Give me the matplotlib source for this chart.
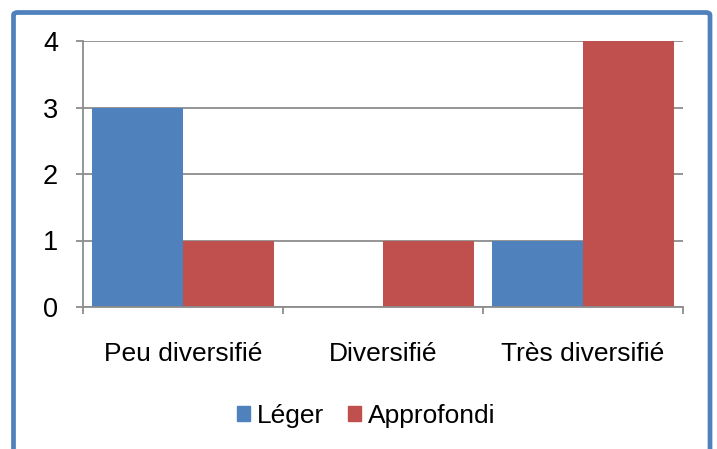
import matplotlib
matplotlib.use("Agg")
import matplotlib.pyplot as plt
import numpy as np
from matplotlib.patches import FancyBboxPatch, Patch

categories = ["Peu diversifié", "Diversifié", "Très diversifié"]
series_names = ["Léger", "Approfondi"]
leger = [3, 0, 1]
approfondi = [1, 1, 4]
yticks = [0, 1, 2, 3, 4]

blue = "#4F81BD"
red = "#C0504D"
grid = "#8C8C8C"

plt.rcParams['font.family'] = ['Liberation Sans', 'DejaVu Sans']

W, H = 717, 449
fig = plt.figure(figsize=(W / 100, H / 100), dpi=100)

# outer frame
frame = FancyBboxPatch((13.5 / W, -20 / H), (710 - 13.5) / W, (H - 12.5 + 20) / H,
                       boxstyle="round,pad=0,rounding_size=0.006",
                       transform=fig.transFigure, fill=False,
                       edgecolor=blue, linewidth=3.4, zorder=0)
fig.patches.append(frame)

ax = fig.add_axes([83 / W, 1 - 307 / H, (683 - 83) / W, (307 - 41) / H])
x = np.arange(len(categories))
w = 0.455
ax.bar(x - w / 2, leger, width=w, color=blue, zorder=2)
ax.bar(x + w / 2, approfondi, width=w, color=red, zorder=2)

ax.set_xlim(-0.5, len(categories) - 0.5)
ax.set_ylim(0, 4)
ax.set_yticks(yticks)
ax.set_yticklabels([str(t) for t in yticks], fontsize=19.5)
ax.yaxis.grid(True, color=grid, linewidth=1.3, zorder=0)
ax.set_axisbelow(True)

ax.set_xticks(x)
ax.set_xticklabels(categories, fontsize=19)
ax.set_xticks(np.arange(-0.5, len(categories), 1.0), minor=True)
ax.tick_params(axis='x', which='major', length=0, pad=25)
ax.tick_params(axis='x', which='minor', length=5, color=grid, width=1.3, direction='out')
ax.tick_params(axis='y', length=5, color=grid, width=1.3, pad=13)

for s in ['top', 'right']:
    ax.spines[s].set_visible(False)
for s in ['left', 'bottom']:
    ax.spines[s].set_color(grid)
    ax.spines[s].set_linewidth(1.3)

handles = [Patch(color=blue, label=series_names[0]), Patch(color=red, label=series_names[1])]
fig.legend(handles=handles, loc='center', bbox_to_anchor=(366 / W, 1 - 416 / H),
           ncol=2, frameon=False, fontsize=19, handlelength=0.5, handleheight=0.5,
           handletextpad=0.25, columnspacing=0.9, borderpad=0)

fig.savefig("out.png", dpi=100)
